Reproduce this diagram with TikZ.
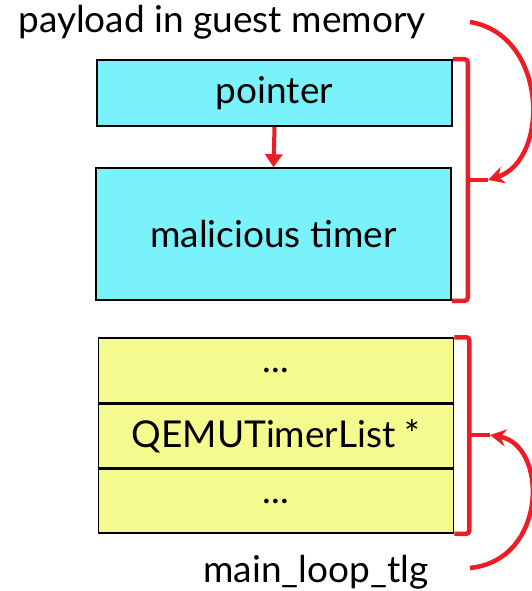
\documentclass[tikz,border=0pt]{standalone}
\usepackage{fontspec}
\setmainfont{Lato}
\usetikzlibrary{arrows.meta,positioning}
\definecolor{cyanbox}{HTML}{7AF2FC}
\definecolor{yellowbox}{HTML}{F5FA8F}
\definecolor{redline}{HTML}{EE1C25}
\tikzset{
  box/.style={draw=black,line width=1.5pt,minimum width=355pt,inner sep=0pt},
  brace/.style={draw=redline,line width=4.5pt,rounded corners=3pt},
  jump/.style={draw=redline,line width=4.5pt,-{Stealth[length=16pt,width=17pt]}}
}
\begin{document}
\begin{tikzpicture}[x=1pt,y=-1pt,font=\fontsize{37}{42}\selectfont]
\useasboundingbox (0,0) rectangle (532,591);
% guest memory
\node[box,fill=cyanbox,minimum height=66pt] (ptr) at (274.5,93) {pointer};
\node[box,fill=cyanbox,minimum height=132pt] (timer) at (273.5,234) {malicious timer};
\draw[redline,line width=4pt,-{Triangle[length=13pt,width=17pt]}] (ptr.south) -- (timer.north);
% timer list
\node[box,fill=yellowbox,minimum height=65pt] (top) at (276,370.5) {...};
\node[box,fill=yellowbox,minimum height=63pt,below=0pt of top] (tlist) {QEMUTimerList *};
\node[box,fill=yellowbox,minimum height=64pt,below=0pt of tlist] (bot) {...};
% labels
\node (payload) at (222,22) {payload in guest memory};
\node (mainloop) at (316,572) {main\_loop\_tlg};
% braces
\draw[brace] (ptr.north east) -- ++(15,0) |- (timer.south east);
\coordinate (tipA) at (488,180);
\draw[brace] (467,180) -- (tipA);
\draw[brace] (top.north east) -- ++(15,0) |- (bot.south east);
\coordinate (tipB) at (490,435);
\draw[brace] (468,435) -- (tipB);
% arrows
\draw[jump] (470,22) .. controls (548,35) and (550,160) .. (tipA);
\draw[jump] (470,568) .. controls (548,560) and (548,445) .. (tipB);
\end{tikzpicture}
\end{document}
